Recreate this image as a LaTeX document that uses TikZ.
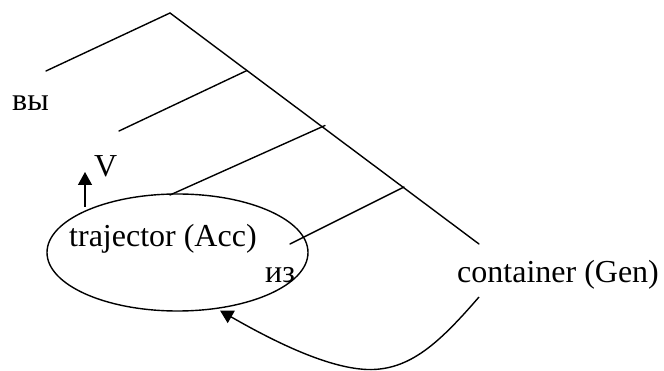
\documentclass[tikz,border=0pt]{standalone}
\usepackage{fontspec}
\setmainfont{Liberation Serif}
\usetikzlibrary{arrows.meta,shapes.geometric}
\begin{document}
\begin{tikzpicture}[x=1pt,y=-1pt,
  wire/.style={line width=1.4pt,line cap=round},
  lbl/.style={inner sep=0pt,anchor=base west,font=\fontsize{32}{38}\selectfont},
  tip/.style={-{Triangle[length=13pt,width=14pt]}}]
\useasboundingbox (0,0) rectangle (664,371);

% tree: trunk and its branches
\coordinate (top) at (170,13);
\coordinate (j1) at (247,70.5);
\coordinate (j2) at (325,125.5);
\coordinate (j3) at (404,187);
\coordinate (trunkend) at (479,244);
\coordinate (b0) at (46,71);
\coordinate (b1) at (119,131);
\coordinate (b2) at (170,195);
\coordinate (b3) at (290,244);

% trajector region
\node[draw,ellipse,line width=1.4pt,minimum width=261pt,minimum height=117pt,inner sep=0pt] (traj) at (177.5,252.5) {};

\draw[wire] (b0) -- (top) -- (trunkend);
\draw[wire] (b1) -- (j1);
\draw[wire] (b2) -- (j2);
\draw[wire] (b3) -- (j3);

% labels
\node[lbl] (vy) at (12,111) {вы};
\node[lbl] (v) at (94,177) {V};
\node[lbl] (trajtxt) at (69,247) {trajector (Acc)};
\node[lbl] (iz) at (265,283) {из};
\node[lbl] (cont) at (457,283) {container (Gen)};

% upward arrow next to V
\coordinate (vfoot) at (85,207);
\coordinate (vhead) at (85,172);
\draw[wire,line cap=butt,tip] (vfoot) -- (vhead);

% return arc from the container back to the trajector
\coordinate (cstart) at (479,297);
\coordinate (cbottom) at (367,369.5);
\coordinate (tend) at (220,310.5);
\draw[wire,line cap=butt,tip] (cstart) .. controls (440,342) and (410,371) .. (cbottom)
  .. controls (330,368) and (280,345) .. (tend);
\end{tikzpicture}
\end{document}
